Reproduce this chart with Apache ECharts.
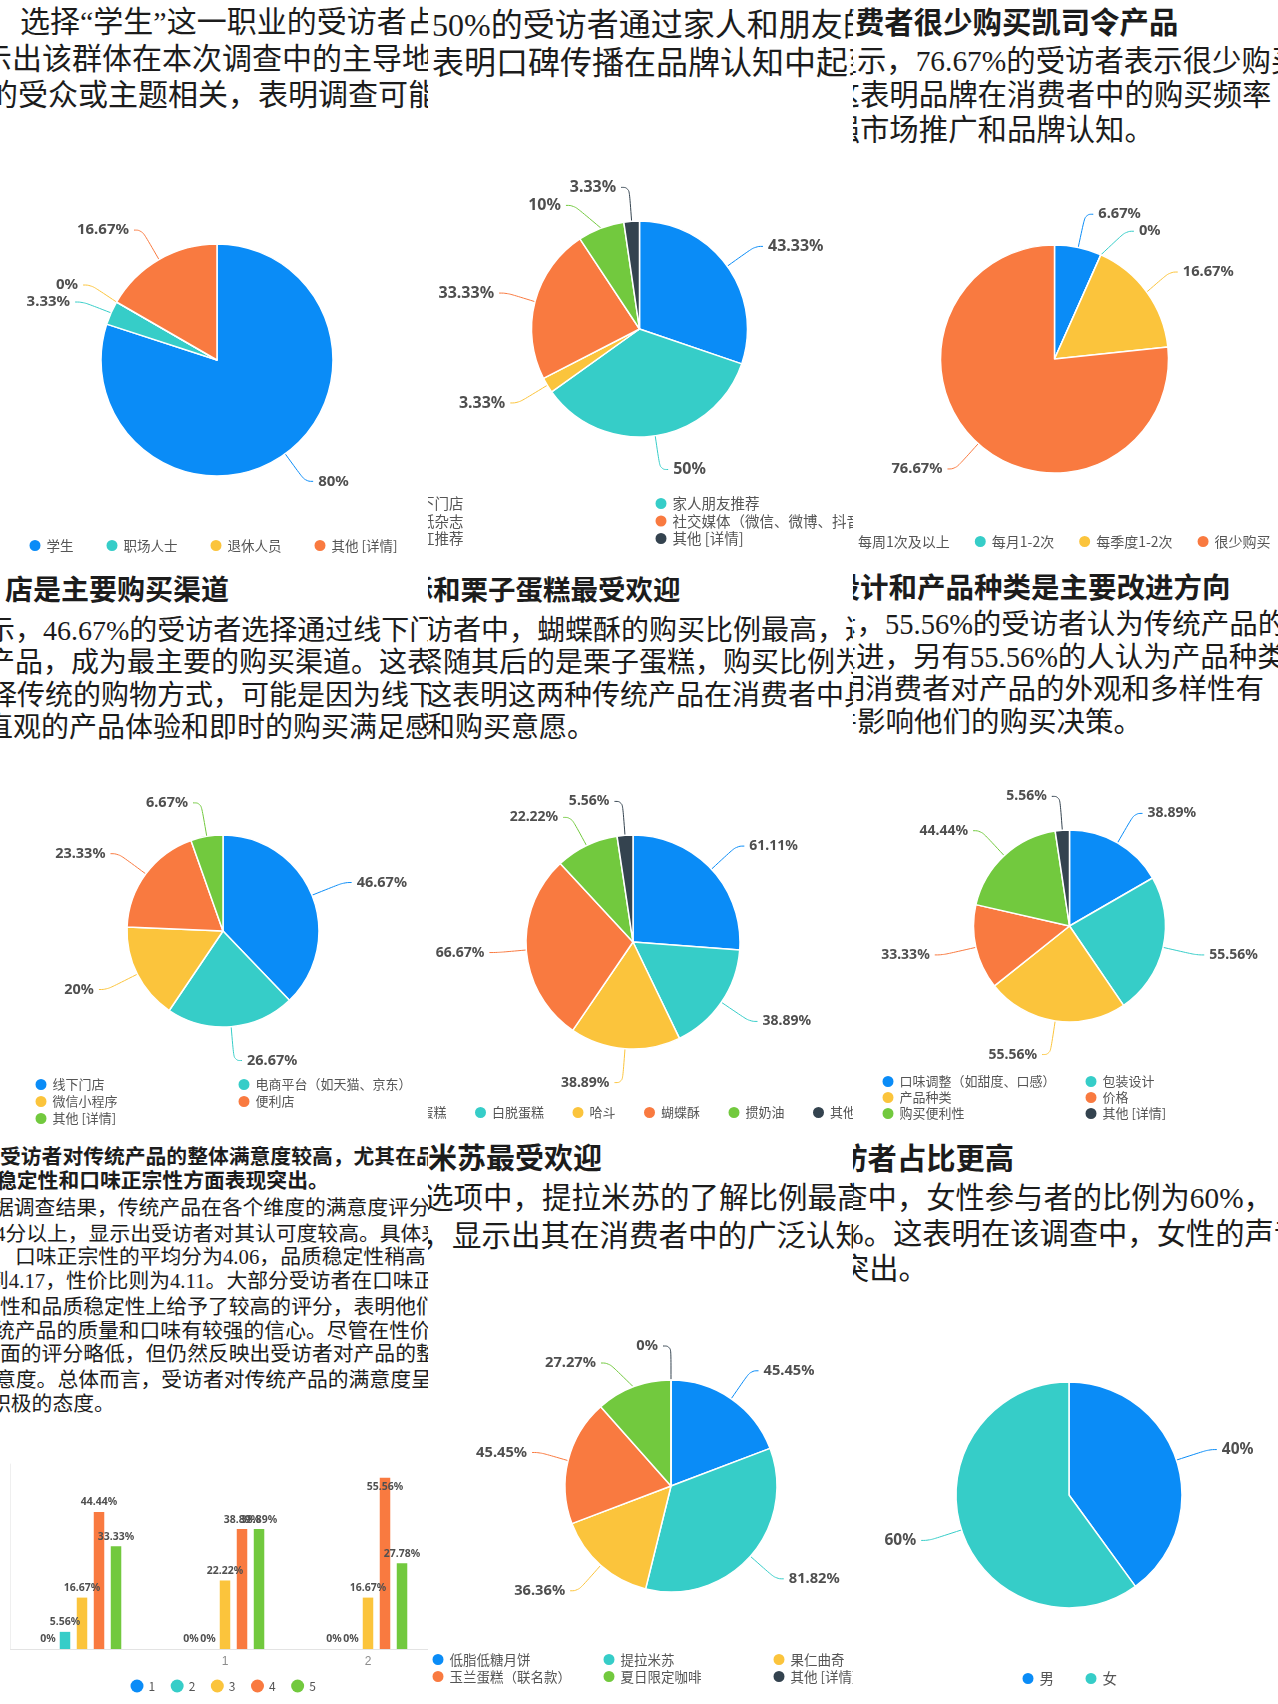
<!DOCTYPE html>
<html>
<head>
<meta charset="utf-8">
<script src="https://cdn.jsdelivr.net/npm/echarts@6.0.0/dist/echarts.min.js"></script>
<style>
html,body{margin:0;padding:0;background:#fff;}
#page{position:relative;width:1278px;height:1704px;overflow:hidden;background:#fff;}
.panel{position:absolute;overflow:hidden;}
.inner{position:absolute;width:1278px;height:1704px;}
.t{position:absolute;white-space:nowrap;color:#1c1c1c;font-family:"Liberation Serif","Noto Sans CJK SC",serif;line-height:1.2;}
.h{font-family:"Noto Sans CJK SC",sans-serif;font-weight:bold;}
.c{position:absolute;}
</style>
</head>
<body>
<div id="page">
  <!-- Panel 1 -->
  <div class="panel" style="left:0;top:0;width:428px;height:562px"><div class="inner" style="left:0;top:0">
    <div class="t" style="left:20px;top:4px;font-size:30px">选择“学生”这一职业的受访者占比最高</div>
    <div class="t" style="left:-48px;top:40.5px;font-size:30px">显示出该群体在本次调查中的主导地位</div>
    <div class="t" style="left:-12px;top:76.5px;font-size:30px">的受众或主题相关，表明调查可能主要面向学生</div>
    <div class="c" id="c1" style="left:-120px;top:0;width:668px;height:562px"></div>
  </div></div>
  <!-- Panel 2 -->
  <div class="panel" style="left:428px;top:0;width:425px;height:562px"><div class="inner" style="left:-428px;top:0">
    <div class="t" style="left:432px;top:6.2px;font-size:32px">50%的受访者通过家人和朋友的推荐</div>
    <div class="t" style="left:432px;top:44.2px;font-size:32px">表明口碑传播在品牌认知中起到重要作用</div>
    <div class="c" id="c2" style="left:308px;top:0;width:665px;height:562px"></div>
  </div></div>
  <!-- Panel 3 -->
  <div class="panel" style="left:853px;top:0;width:425px;height:562px"><div class="inner" style="left:-853px;top:0">
    <div class="t h" style="left:825.6px;top:2.9px;font-size:29.4px">消费者很少购买凯司令产品</div>
    <div class="t" style="left:827.5px;top:43.9px;font-size:29.4px">显示，76.67%的受访者表示很少购买</div>
    <div class="t" style="left:830.6px;top:77.9px;font-size:29.4px">这表明品牌在消费者中的购买频率</div>
    <div class="t" style="left:801.2px;top:112.9px;font-size:29.4px">加强市场推广和品牌认知。</div>
    <div class="c" id="c3" style="left:733px;top:0;width:665px;height:562px"></div>
  </div></div>
  <!-- Panel 4 -->
  <div class="panel" style="left:0;top:562px;width:428px;height:574px"><div class="inner" style="left:0;top:-562px">
    <div class="t h" style="left:5px;top:571.8px;font-size:28px">店是主要购买渠道</div>
    <div class="t" style="left:-13px;top:613.8px;font-size:28px">示，46.67%的受访者选择通过线下门店</div>
    <div class="t" style="left:-13px;top:645.8px;font-size:28px">产品，成为最主要的购买渠道。这表明</div>
    <div class="t" style="left:-11px;top:678.8px;font-size:28px">择传统的购物方式，可能是因为线下门店</div>
    <div class="t" style="left:-15px;top:710.8px;font-size:28px">直观的产品体验和即时的购买满足感。</div>
    <div class="c" id="c4" style="left:-120px;top:562px;width:668px;height:574px"></div>
  </div></div>
  <!-- Panel 5 -->
  <div class="panel" style="left:428px;top:562px;width:425px;height:574px"><div class="inner" style="left:-428px;top:-562px">
    <div class="t h" style="left:350.5px;top:572.1px;font-size:27.5px">蝴蝶酥和栗子蛋糕最受欢迎</div>
    <div class="t" style="left:397px;top:613.8px;font-size:28px">受访者中，蝴蝶酥的购买比例最高，达到</div>
    <div class="t" style="left:415px;top:645.8px;font-size:28px">紧随其后的是栗子蛋糕，购买比例为</div>
    <div class="t" style="left:424px;top:678.8px;font-size:28px">这表明这两种传统产品在消费者中具有</div>
    <div class="t" style="left:399px;top:710.8px;font-size:28px">度和购买意愿。</div>
    <div class="c" id="c5" style="left:308px;top:562px;width:665px;height:574px"></div>
  </div></div>
  <!-- Panel 6 -->
  <div class="panel" style="left:853px;top:562px;width:425px;height:574px"><div class="inner" style="left:-853px;top:-562px">
    <div class="t h" style="left:774.5px;top:568.5px;font-size:28.5px">包装设计和产品种类是主要改进方向</div>
    <div class="t" style="left:799.5px;top:607.5px;font-size:28.5px">显示，55.56%的受访者认为传统产品的</div>
    <div class="t" style="left:827.5px;top:640.5px;font-size:28.5px">改进，另有55.56%的人认为产品种类</div>
    <div class="t" style="left:808px;top:672.5px;font-size:28.5px">表明消费者对产品的外观和多样性有</div>
    <div class="t" style="left:828.5px;top:705.5px;font-size:28.5px">并影响他们的购买决策。</div>
    <div class="c" id="c6" style="left:733px;top:562px;width:665px;height:574px"></div>
  </div></div>
  <!-- Panel 7 -->
  <div class="panel" style="left:0;top:1136px;width:428px;height:568px"><div class="inner" style="left:0;top:-1136px">
    <div class="t h" style="left:0;top:1142.5px;font-size:20.8px">受访者对传统产品的整体满意度较高，尤其在品质</div>
    <div class="t h" style="left:-4px;top:1166.5px;font-size:20.8px">稳定性和口味正宗性方面表现突出。</div>
    <div class="t" style="left:-7px;top:1195.5px;font-size:20.8px">据调查结果，传统产品在各个维度的满意度评分均在</div>
    <div class="t" style="left:-5px;top:1221.5px;font-size:20.8px">4分以上，显示出受访者对其认可度较高。具体来看</div>
    <div class="t" style="left:15px;top:1244.5px;font-size:20.8px">口味正宗性的平均分为4.06，品质稳定性稍高</div>
    <div class="t" style="left:-12px;top:1268.5px;font-size:20.8px">到4.17，性价比则为4.11。大部分受访者在口味正宗</div>
    <div class="t" style="left:0;top:1294.5px;font-size:20.8px">性和品质稳定性上给予了较高的评分，表明他们对传</div>
    <div class="t" style="left:-6px;top:1318.5px;font-size:20.8px">统产品的质量和口味有较强的信心。尽管在性价比</div>
    <div class="t" style="left:0;top:1341.5px;font-size:20.8px">面的评分略低，但仍然反映出受访者对产品的整体满</div>
    <div class="t" style="left:-5px;top:1367.5px;font-size:20.8px">意度。总体而言，受访者对传统产品的满意度呈现</div>
    <div class="t" style="left:-10px;top:1391.5px;font-size:20.8px">积极的态度。</div>
    <div class="c" id="c7" style="left:0;top:1136px;width:600px;height:568px"></div>
  </div></div>
  <!-- Panel 8 -->
  <div class="panel" style="left:428px;top:1136px;width:425px;height:568px"><div class="inner" style="left:-428px;top:-1136px">
    <div class="t h" style="left:370px;top:1138.6px;font-size:29px">提拉米苏最受欢迎</div>
    <div class="t" style="left:424px;top:1180.8px;font-size:29.5px">选项中，提拉米苏的了解比例最高</div>
    <div class="t" style="left:422.5px;top:1218.8px;font-size:29.5px">，显示出其在消费者中的广泛认知</div>
    <div class="c" id="c8" style="left:308px;top:1136px;width:665px;height:568px"></div>
  </div></div>
  <!-- Panel 9 -->
  <div class="panel" style="left:853px;top:1136px;width:425px;height:568px"><div class="inner" style="left:-853px;top:-1136px">
    <div class="t h" style="left:809px;top:1138.5px;font-size:29.3px">受访者占比更高</div>
    <div class="t" style="left:809px;top:1181px;font-size:29.3px">调查中，女性参与者的比例为60%，</div>
    <div class="t" style="left:810px;top:1217px;font-size:29.3px">40%。这表明在该调查中，女性的声音</div>
    <div class="t" style="left:840px;top:1252px;font-size:29.3px">突出。</div>
    <div class="c" id="c9" style="left:733px;top:1136px;width:665px;height:568px"></div>
  </div></div>
</div>
<script>
// ---------- data ----------
const COLORS = ['#0a8cf7', '#36cdc8', '#fbc43c', '#f97a40', '#72c93e', '#34434f'];

const occupationNames = ['学生', '职场人士', '退休人员', '其他 [详情]'];
const occupationValues = [80, 3.33, 0, 16.67];

const channelNames = ['线下门店', '家人朋友推荐', '报纸杂志', '社交媒体（微信、微博、抖音等）', '网红推荐', '其他 [详情]'];
const channelValues = [43.33, 50, 3.33, 33.33, 10, 3.33];

const freqNames = ['每周1次及以上', '每月1-2次', '每季度1-2次', '很少购买'];
const freqValues = [6.67, 0, 16.67, 76.67];

const buyNames = ['线下门店', '电商平台（如天猫、京东）', '微信小程序', '便利店', '其他 [详情]'];
const buyValues = [46.67, 26.67, 20, 23.33, 6.67];

const productNames = ['栗子蛋糕', '白脱蛋糕', '哈斗', '蝴蝶酥', '掼奶油', '其他'];
const productValues = [61.11, 38.89, 38.89, 66.67, 22.22, 5.56];

const improveNames = ['口味调整（如甜度、口感）', '包装设计', '产品种类', '价格', '购买便利性', '其他 [详情]'];
const improveValues = [38.89, 55.56, 55.56, 33.33, 44.44, 5.56];

const satCategories = ['', '1', '2'];
const satScoreNames = ['1', '2', '3', '4', '5'];
const satScore1 = [0, 0, 0];
const satScore2 = [5.56, 0, 0];
const satScore3 = [16.67, 22.22, 16.67];
const satScore4 = [44.44, 38.89, 55.56];
const satScore5 = [33.33, 38.89, 27.78];

const newNames = ['低脂低糖月饼', '提拉米苏', '果仁曲奇', '玉兰蛋糕（联名款）', '夏日限定咖啡', '其他 [详情]'];
const newValues = [45.45, 81.82, 36.36, 45.45, 27.27, 0];

const genderNames = ['男', '女'];
const genderValues = [40, 60];

// ---------- helpers ----------
const CJK = '"Noto Sans CJK SC", sans-serif';
function legendOf(data, left, top, fs, gap, orient) {
  return {
    data: data, left: left, top: top, orient: orient || 'horizontal',
    itemGap: gap, itemWidth: 13, itemHeight: 13, icon: 'circle', padding: 0,
    selectedMode: false,
    textStyle: { fontSize: fs, color: '#555', fontFamily: CJK }
  };
}
function pieChart(id, names, values, o) {
  const chart = echarts.init(document.getElementById(id), null, { renderer: 'canvas' });
  chart.setOption({
    animation: false,
    backgroundColor: 'transparent',
    color: COLORS,
    legend: o.legends,
    series: [{
      type: 'pie',
      center: o.center,
      radius: o.r,
      startAngle: 90,
      clockwise: true,
      avoidLabelOverlap: true,
      data: names.map((n, i) => ({ name: n, value: values[i] })),
      label: {
        show: true, formatter: '{c}%', color: '#4f4f4f', fontSize: o.fs,
        fontWeight: 'bold', fontFamily: '"Noto Sans", sans-serif'
      },
      labelLine: { show: true, length: 34, length2: 8, smooth: 0.45, lineStyle: { width: 1 } },
      itemStyle: { borderColor: '#fff', borderWidth: 1.5 },
      emphasis: { disabled: true }
    }]
  });
}

// Panel 1
pieChart('c1', occupationNames, occupationValues, {
  center: [337, 360], r: 116, fs: 15,
  legends: [legendOf(occupationNames, 147.5, 538, 13.5, 31)]
});
// Panel 2
pieChart('c2', channelNames, channelValues, {
  center: [331.5, 329], r: 108, fs: 16,
  legends: [
    legendOf([channelNames[0], channelNames[2], channelNames[4]], 78.5, 496, 14.5, 2.5, 'vertical'),
    legendOf([channelNames[1], channelNames[3], channelNames[5]], 345.5, 496, 14.5, 2.5, 'vertical')
  ]
});
// Panel 3
pieChart('c3', freqNames, freqValues, {
  center: [321.5, 359], r: 114, fs: 14.7,
  legends: [legendOf(freqNames, 106, 534, 14, 23)]
});
// Panel 4
pieChart('c4', buyNames, buyValues, {
  center: [343, 369], r: 96, fs: 14.5,
  legends: [
    legendOf([buyNames[0], buyNames[2], buyNames[4]], 153.5, 515, 13, 2, 'vertical'),
    legendOf([buyNames[1], buyNames[3]], 356.5, 515, 13, 2, 'vertical')
  ]
});
// Panel 5
pieChart('c5', productNames, productValues, {
  center: [325, 380], r: 107, fs: 14,
  legends: [legendOf(productNames, 67.5, 543, 13, 26.5)]
});
// Panel 6
pieChart('c6', improveNames, improveValues, {
  center: [336.5, 364], r: 96, fs: 14,
  legends: [
    legendOf([improveNames[0], improveNames[2], improveNames[4]], 147.5, 512, 13, 1, 'vertical'),
    legendOf([improveNames[1], improveNames[3], improveNames[5]], 350.5, 512, 13, 1, 'vertical')
  ]
});
// Panel 8
pieChart('c8', newNames, newValues, {
  center: [363, 350], r: 106, fs: 14.7,
  legends: [
    legendOf([newNames[0], newNames[3]], 122.5, 516, 13.5, 2, 'vertical'),
    legendOf([newNames[1], newNames[4]], 293.5, 516, 13.5, 2, 'vertical'),
    legendOf([newNames[2], newNames[5]], 463.5, 516, 13.5, 2, 'vertical')
  ]
});
// Panel 9
pieChart('c9', genderNames, genderValues, {
  center: [336, 359], r: 113, fs: 15.5,
  legends: [legendOf(genderNames, 287.5, 535, 14.5, 29.5)]
});

// Panel 7: bar chart
(function () {
  const chart = echarts.init(document.getElementById('c7'), null, { renderer: 'canvas' });
  const scoreData = [satScore1, satScore2, satScore3, satScore4, satScore5];
  chart.setOption({
    animation: false,
    backgroundColor: 'transparent',
    color: COLORS,
    legend: legendOf(satScoreNames, 130.5, 543.5, 12, 15.5),
    grid: { left: 10.5, top: 328, width: 429, height: 185, containLabel: false },
    xAxis: {
      type: 'category', data: satCategories,
      axisTick: { show: false },
      axisLine: { lineStyle: { color: '#e3e3e3' } },
      axisLabel: { color: '#8c8c8c', fontSize: 12, margin: 7 }
    },
    yAxis: {
      type: 'value', min: 0, max: 60,
      axisLabel: { show: false }, axisTick: { show: false },
      splitLine: { show: false },
      axisLine: { show: true, lineStyle: { color: '#efefef' } }
    },
    series: satScoreNames.map((n, i) => ({
      type: 'bar', name: n, barWidth: 10.5, barGap: '62%',
      data: scoreData[i].map(v => v > 50 ? { value: v, label: { position: 'insideTop', distance: 4 } } : v),
      label: { show: true, position: 'top', distance: 4, formatter: '{c}%', color: '#505050', fontSize: 10.5, fontWeight: 'bold', fontFamily: '"Noto Sans", sans-serif' },
      emphasis: { disabled: true }
    }))
  });
})();
</script>
</body>
</html>
